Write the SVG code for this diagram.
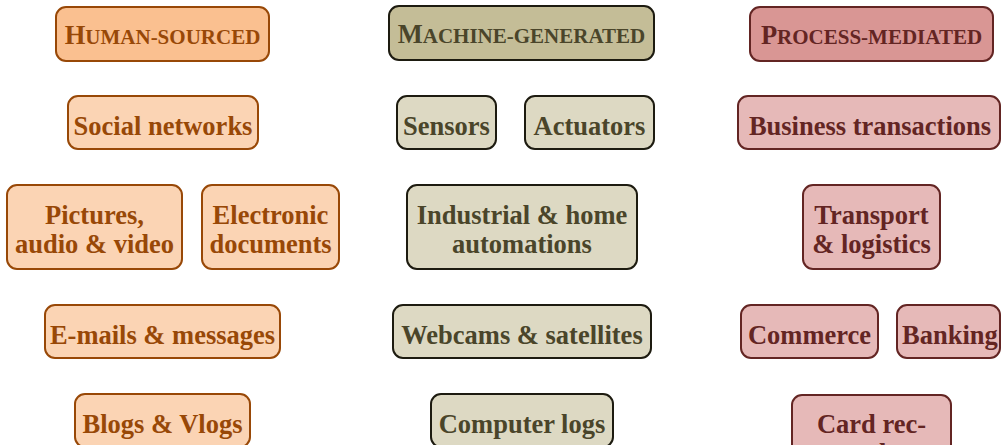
<svg xmlns="http://www.w3.org/2000/svg" width="1001" height="445" viewBox="0 0 1001 445">
<style>
text{font-family:"Liberation Serif","Times New Roman",serif;font-weight:bold;font-size:26.5px;text-anchor:middle}
rect{stroke-width:2}
.hh rect{fill:#FAC090;stroke:#984807}
.h rect{fill:#FBD4B4;stroke:#984807}
.hh text,.h text{fill:#984807}
.mh rect{fill:#C4BD97;stroke:#1D1B10}
.m rect{fill:#DDD9C3;stroke:#1D1B10}
.mh text,.m text{fill:#4A452A}
.ph rect{fill:#D99694;stroke:#632523}
.p rect{fill:#E6B9B8;stroke:#632523}
.ph text,.p text{fill:#632523}
.sc{font-size:21px}
</style>
<g id="connectors"/>
<g id="human-header" class="hh"><rect x="56" y="7" width="213" height="54" rx="10"/><text x="162.5" y="44">H<tspan class="sc">UMAN-SOURCED</tspan></text></g>
<g id="social" class="h"><rect x="68" y="96" width="190" height="53" rx="10"/><text x="163" y="135">Social networks</text></g>
<g id="pictures" class="h"><rect x="7" y="185" width="175" height="84" rx="10"/><text x="94.5" y="224">Pictures,</text><text x="94.5" y="253">audio &amp; video</text></g>
<g id="edocs" class="h"><rect x="202" y="185" width="137" height="84" rx="10"/><text x="270.5" y="224">Electronic</text><text x="270.5" y="253">documents</text></g>
<g id="emails" class="h"><rect x="45" y="305" width="235" height="53" rx="10"/><text x="162.5" y="344">E-mails &amp; messages</text></g>
<g id="blogs" class="h"><rect x="75" y="394" width="175" height="53" rx="10"/><text x="162.5" y="433">Blogs &amp; Vlogs</text></g>

<g id="machine-header" class="mh"><rect x="389" y="6" width="265" height="54" rx="10"/><text x="521.5" y="43">M<tspan class="sc">ACHINE-GENERATED</tspan></text></g>
<g id="sensors" class="m"><rect x="397" y="96" width="99" height="53" rx="10"/><text x="446.5" y="135">Sensors</text></g>
<g id="actuators" class="m"><rect x="525" y="96" width="129" height="53" rx="10"/><text x="589.5" y="135">Actuators</text></g>
<g id="industrial" class="m"><rect x="407" y="185" width="230" height="84" rx="10"/><text x="522" y="224">Industrial &amp; home</text><text x="522" y="253">automations</text></g>
<g id="webcams" class="m"><rect x="393" y="305" width="258" height="53" rx="10"/><text x="522" y="344">Webcams &amp; satellites</text></g>
<g id="logs" class="m"><rect x="431" y="394" width="182" height="53" rx="10"/><text x="522" y="433">Computer logs</text></g>

<g id="process-header" class="ph"><rect x="750" y="7" width="243" height="54" rx="10"/><text x="871.5" y="44">P<tspan class="sc">ROCESS-MEDIATED</tspan></text></g>
<g id="business" class="p"><rect x="738" y="96" width="262" height="53" rx="10"/><text x="870" y="135">Business transactions</text></g>
<g id="transport" class="p"><rect x="803" y="185" width="137" height="84" rx="10"/><text x="871.5" y="224">Transport</text><text x="871.5" y="253">&amp; logistics</text></g>
<g id="commerce" class="p"><rect x="741" y="305" width="137" height="53" rx="10"/><text x="809.5" y="344">Commerce</text></g>
<g id="banking" class="p"><rect x="897" y="305" width="103" height="53" rx="10"/><text x="950" y="344">Banking</text></g>
<g id="cards" class="p"><rect x="792" y="395" width="159" height="84" rx="10"/><text x="871.5" y="433">Card rec-</text><text x="871.5" y="462">ords</text></g>
</svg>
